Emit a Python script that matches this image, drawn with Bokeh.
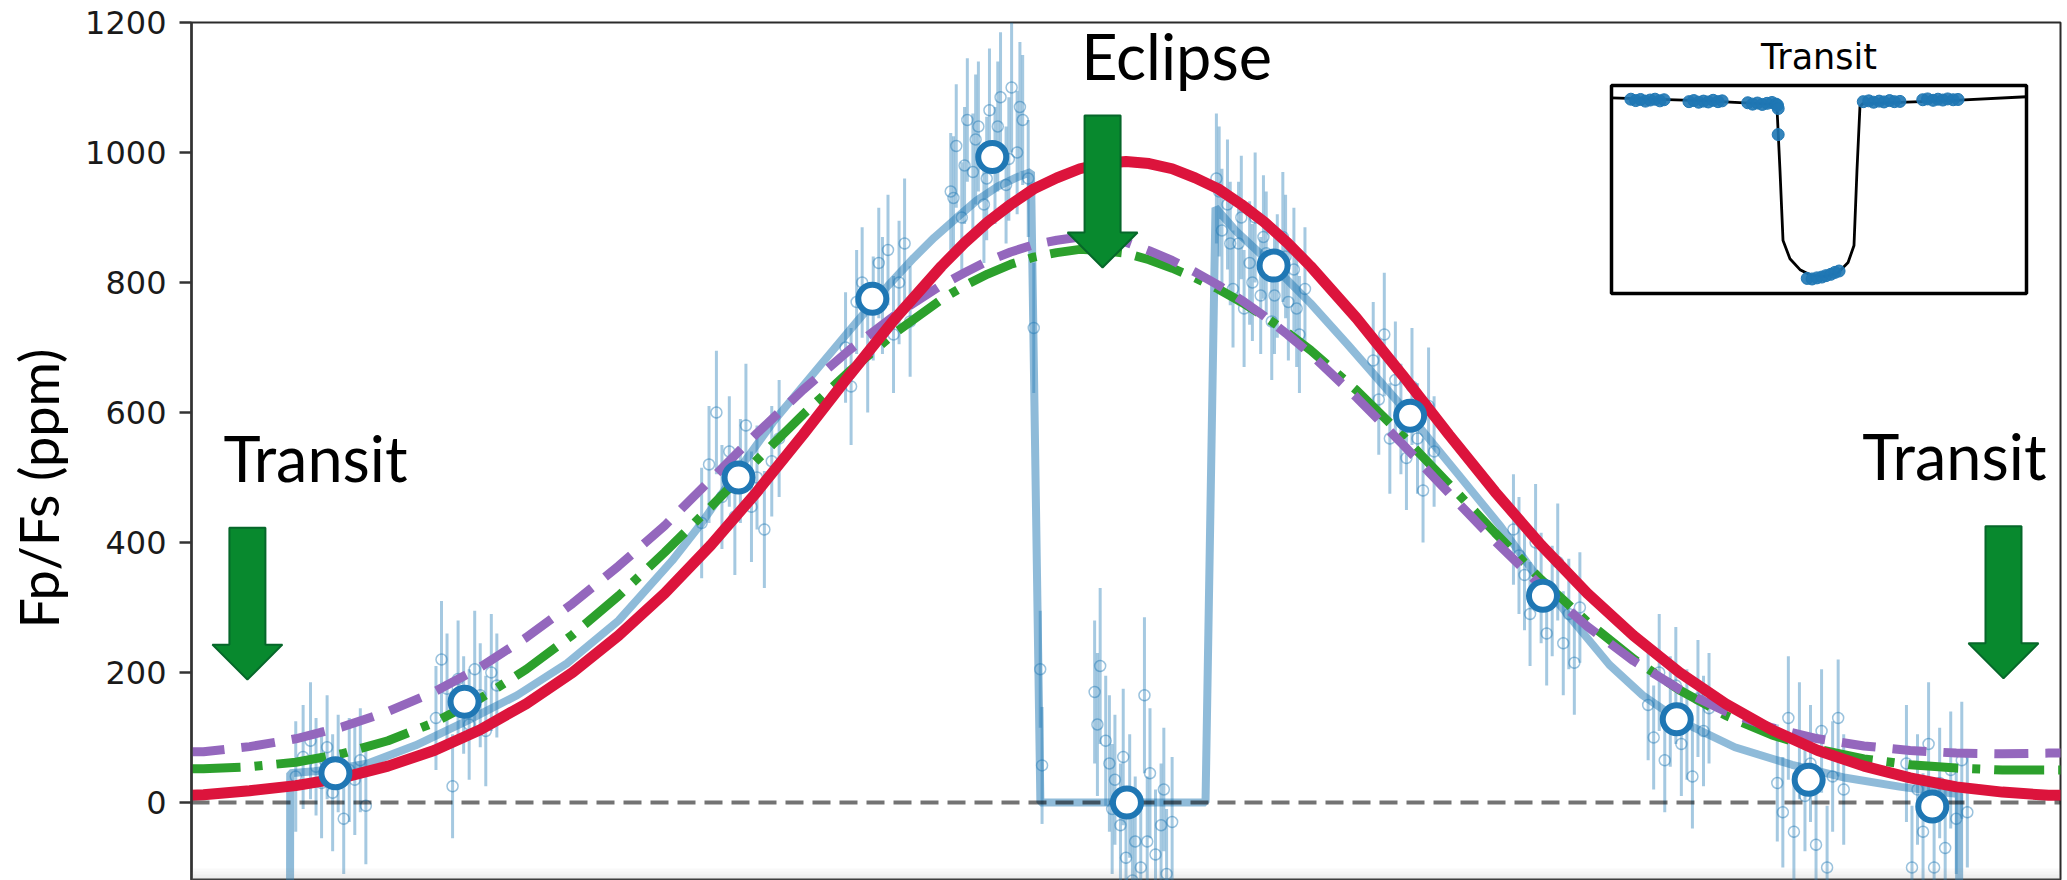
import numpy as np
from bokeh.plotting import figure
from bokeh.layouts import row
from bokeh.models import Range1d, Label, FixedTicker, BoxAnnotation
from bokeh.core.properties import value
from bokeh.embed import file_html
from bokeh.resources import INLINE

# ------------------------------------------------------------------
# Phase-curve models, sampled in orbital phase (transit = 0, eclipse = 0.5)
# ------------------------------------------------------------------
model_phase = [-0.007, 0.000, 0.025, 0.050, 0.075, 0.100, 0.125, 0.150, 0.175,
               0.200, 0.225, 0.250, 0.275, 0.300, 0.325, 0.350, 0.375,
               0.4000, 0.4125, 0.4250, 0.4375, 0.4500, 0.4625, 0.4750, 0.4875,
               0.5000, 0.5125, 0.5250, 0.5375, 0.5500, 0.5625, 0.5750, 0.5875,
               0.6000,
               0.625, 0.650, 0.675, 0.700, 0.725, 0.750, 0.775, 0.800, 0.825,
               0.850, 0.875, 0.900, 0.925, 0.950, 0.975, 1.000, 1.007]
red_ppm = [11, 12, 18, 26, 38, 56, 80, 112, 152, 200, 257, 322, 396, 478, 566,
           657, 745,
           825, 861, 893, 920, 944, 961, 975, 983, 986, 983, 975, 961, 944, 920,
           893, 861, 825,
           745, 657, 566, 478, 396, 322, 257, 200, 152, 112, 80, 56, 38, 24, 16,
           11, 11]
purple_ppm = [78, 78, 86, 98, 116, 140, 170, 208, 254, 306, 364, 426, 497, 568,
              635, 696, 750,
              796, 815, 833, 847, 858, 865, 870, 867, 862, 849, 834, 816, 796,
              773, 748, 720, 690,
              623, 551, 476, 402, 333, 271, 218, 174, 140, 115, 98, 87, 80, 76,
              75, 76, 76]
green_ppm = [52, 52, 55, 62, 75, 95, 123, 160, 205, 258, 318, 385, 455, 527,
             597, 663, 723,
             774, 795, 813, 828, 839, 846, 851, 849, 845, 835, 822, 807, 790,
             770, 748, 723, 696,
             634, 564, 490, 415, 343, 278, 221, 173, 134, 104, 82, 67, 58, 53,
             50, 50, 50]

# Fitted light-curve model with the transit and the secondary eclipse
fit_phase = [-0.007, 0.044, 0.047, 0.060, 0.075, 0.089, 0.115, 0.143, 0.170,
             0.197, 0.225, 0.254, 0.270, 0.289, 0.310, 0.335, 0.356, 0.371,
             0.385, 0.396, 0.408, 0.419, 0.430, 0.441, 0.4485, 0.4536, 0.5431,
             0.5485, 0.560, 0.579, 0.600, 0.620, 0.654, 0.680, 0.703, 0.726,
             0.745, 0.762, 0.780, 0.800, 0.830, 0.861, 0.890, 0.920, 0.945,
             0.9515, 0.9555, 1.007]
fit_ppm = [-6500, -6500, 45, 48, 53, 60, 88, 126, 165, 214, 280, 372, 430, 508,
           590, 675, 746, 795, 838, 869, 899, 926, 947, 962, 970, 0, 0, 915,
           878, 828, 768, 705, 595, 505, 425, 335, 270, 212, 165, 126, 85, 58,
           38, 24, 15, 13, -6500, -6500]

# ------------------------------------------------------------------
# Unbinned measurements (phase, Fp/Fs, 1-sigma error)
# ------------------------------------------------------------------
obs_phase = [
    0.050, 0.054, 0.058, 0.061, 0.064, 0.067, 0.070, 0.073, 0.076, 0.079, 0.082, 0.085, 0.088,
    0.126, 0.129, 0.132, 0.135, 0.138, 0.141, 0.144, 0.147, 0.150, 0.153, 0.156, 0.159,
    0.270, 0.274, 0.278, 0.281, 0.285, 0.288, 0.291, 0.294, 0.297, 0.300, 0.304, 0.308, 0.312,
    0.348, 0.351, 0.354, 0.357, 0.360, 0.363, 0.366, 0.368, 0.371, 0.374, 0.377, 0.380, 0.383,
    0.405, 0.408, 0.411, 0.414, 0.417, 0.420, 0.423, 0.426, 0.429, 0.432, 0.435, 0.438, 0.441, 0.444, 0.447,
    0.4065, 0.4125, 0.4185, 0.4245, 0.4305, 0.4365, 0.4425,
    0.4500, 0.4535, 0.4545,
    0.483, 0.486, 0.489, 0.491, 0.494, 0.497, 0.500, 0.502, 0.505, 0.508, 0.510, 0.513, 0.516, 0.519, 0.522, 0.525,
    0.4845, 0.4925, 0.4985, 0.5035, 0.5115, 0.5205,
    0.549, 0.552, 0.555, 0.558, 0.561, 0.564, 0.567, 0.570, 0.573, 0.576, 0.579, 0.582, 0.585, 0.588, 0.591, 0.594, 0.597,
    0.5505, 0.5565, 0.5625, 0.5685, 0.5745, 0.5805, 0.5865, 0.5925,
    0.634, 0.637, 0.640, 0.643, 0.646, 0.649, 0.652, 0.655, 0.658, 0.661, 0.664, 0.667,
    0.710, 0.713, 0.716, 0.719, 0.722, 0.725, 0.728, 0.731, 0.734, 0.737, 0.740, 0.743, 0.746,
    0.783, 0.786, 0.789, 0.792, 0.795, 0.798, 0.801, 0.804, 0.807, 0.810, 0.813, 0.816,
    0.853, 0.856, 0.859, 0.862, 0.865, 0.868, 0.871, 0.874, 0.877, 0.880, 0.883, 0.886, 0.889,
    0.923, 0.926, 0.929, 0.932, 0.935, 0.938, 0.941, 0.944, 0.947, 0.950, 0.953, 0.956,
]
obs_ppm = [
    40, 70, 95, 55, 30, 85, 15, 60, -25, 50, 35, 65, -5,
    130, 220, 175, 25, 190, 150, 120, 205, 165, 110, 200, 180,
    430, 520, 600, 470, 540, 440, 510, 580, 455, 500, 420, 525, 560,
    700, 640, 770, 800, 690, 760, 830, 780, 850, 720, 800, 860, 740,
    940, 1010, 900, 1050, 970, 1040, 920, 1065, 980, 1085, 950, 1100, 1000, 1050, 960,
    930, 980, 1020, 960, 1040, 990, 1070,
    730, 205, 57,
    170, 210, 95, 60, 35, -35, -85, 10, -60, -100, 165, 45, -80, -35, -110, -30,
    120, -10, 70, -120, -60, 20,
    960, 880, 920, 790, 860, 760, 830, 900, 780, 845, 740, 810, 870, 770, 820, 720, 790,
    940, 860, 900, 800, 870, 780, 840, 760,
    680, 620, 720, 560, 650, 590, 530, 640, 560, 480, 610, 540,
    420, 380, 350, 290, 400, 330, 260, 310, 370, 245, 290, 215, 300,
    150, 100, 200, 65, 140, 180, 90, 120, 40, 160, 110, 145,
    30, -15, 130, -45, 95, 10, 60, -65, 110, -100, 40, 130, 20,
    60, -100, 20, -45, 90, -100, 30, -70, 50, -25, 65, -15,
]
obs_err = [
    85, 80, 90, 75, 85, 80, 90, 75, 85, 80, 85, 80, 90,
    80, 90, 85, 80, 90, 75, 85, 90, 80, 85, 90, 80,
    85, 90, 95, 80, 85, 90, 80, 95, 85, 80, 90, 85, 90,
    85, 90, 80, 85, 90, 80, 85, 90, 85, 90, 95, 100, 85,
    90, 95, 85, 95, 90, 100, 90, 95, 90, 100, 90, 100, 95, 100, 90,
    95, 90, 100, 95, 100, 95, 100,
    100, 90, 90,
    110, 120, 100, 105, 100, 95, 100, 95, 100, 105, 120, 100, 100, 95, 100, 100,
    110, 100, 105, 100, 100, 95,
    100, 95, 100, 90, 95, 90, 95, 100, 90, 95, 90, 95, 100, 90, 95, 90, 95,
    100, 95, 95, 90, 95, 90, 95, 90,
    90, 85, 95, 85, 90, 85, 80, 90, 85, 80, 90, 85,
    85, 90, 85, 80, 90, 85, 80, 85, 90, 80, 85, 80, 85,
    85, 80, 90, 80, 85, 90, 80, 85, 80, 90, 85, 85,
    90, 85, 95, 90, 90, 85, 90, 90, 95, 95, 85, 90, 85,
    90, 95, 85, 90, 95, 95, 85, 90, 90, 85, 90, 85,
]

# Binned measurements
bin_phase = [0.0715, 0.1415, 0.290, 0.3625, 0.4275, 0.5005, 0.580, 0.654,
             0.726, 0.7985, 0.870, 0.937]
bin_ppm = [45, 155, 500, 775, 993, 0, 826, 595, 318, 128, 35, -6]

y_ticks = [0, 200, 400, 600, 800, 1000, 1200]

# Inset: transit light curve (hours from mid-transit, flux change in ppm)
inset_model_t = [-3.0, -1.72, -0.64, -0.607, -0.564, -0.52, -0.42, -0.275,
                 -0.10, 0.09, 0.275, 0.42, 0.506, 0.549, 0.592, 0.636, 1.89, 3.0]
inset_model_ppm = [-10, -110, -250, -400, -2660, -5220, -5880, -6280, -6500,
                   -6530, -6390, -6020, -5400, -2660, -330, -220, -110, 30]
inset_obs_t = [
    -2.72, -2.65, -2.58, -2.51, -2.44, -2.37, -2.30, -2.24,
    -1.88, -1.81, -1.74, -1.67, -1.60, -1.53, -1.46, -1.40,
    -1.03, -0.96, -0.89, -0.82, -0.75, -0.68, -0.62, -0.60,
    -0.59, -0.59,
    -0.17, -0.10, -0.03, 0.04, 0.10, 0.17, 0.23, 0.29,
    0.64, 0.72, 0.79, 0.87, 0.94, 1.02, 1.09, 1.17,
    1.50, 1.57, 1.65, 1.72, 1.79, 1.86, 1.94, 2.01,
]
inset_obs_ppm = [
    -60, -110, -70, -130, -90, -60, -120, -80,
    -150, -110, -170, -130, -160, -100, -150, -120,
    -190, -240, -200, -250, -210, -180, -240, -280,
    -400, -1350,
    -6600, -6620, -6580, -6550, -6500, -6450, -6380, -6330,
    -150, -120, -170, -130, -160, -110, -150, -140,
    -80, -50, -100, -60, -90, -50, -80, -70,
]

# ------------------------------------------------------------------
# Page geometry
# ------------------------------------------------------------------
WIDTH, HEIGHT = 2067, 880
TITLE_W = 78                                   # strip holding the y title
FRAME_LEFT, FRAME_RIGHT, FRAME_TOP, FRAME_BOTTOM = 191, 2060, 22, 880
X_LO, X_HI = -0.0065, 1.0065
Y_LO, Y_HI = -120, 1200
X_PER_PX = (X_HI - X_LO) / (FRAME_RIGHT - FRAME_LEFT)
Y_PER_PX = (Y_HI - Y_LO) / (FRAME_BOTTOM - FRAME_TOP)

BLUE = "#1f77b4"
RED = "#dc143c"
PURPLE = "#9467bd"
GREEN = "#2ca02c"
ARROW_FILL = "#08892e"
ARROW_EDGE = "#06672a"

# ---- narrow strip with the rotated y-axis title ----
t = figure(width=TITLE_W, height=HEIGHT, x_range=Range1d(0, TITLE_W),
           y_range=Range1d(0, HEIGHT), output_backend="svg",
           toolbar_location=None, x_axis_location=None, y_axis_location=None,
           min_border=0)
t.outline_line_color = None
t.grid.visible = False
t.text(x=[38], y=[HEIGHT - 478], text=["Fp/Fs (ppm)"], angle=np.pi / 2,
       text_align="center", text_baseline="middle",
       text_font=value("Lato"), text_font_size=value("54px"),
       text_color="black")

# ---- main phase-curve panel ----
p = figure(width=WIDTH - TITLE_W, height=HEIGHT,
           x_range=Range1d(X_LO, X_HI), y_range=Range1d(Y_LO, Y_HI),
           output_backend="svg", toolbar_location=None,
           x_axis_location=None,
           min_border_left=FRAME_LEFT - TITLE_W,
           min_border_right=WIDTH - FRAME_RIGHT,
           min_border_top=FRAME_TOP, min_border_bottom=HEIGHT - FRAME_BOTTOM)
p.grid.visible = False
p.background_fill_color = "white"
p.border_fill_color = "white"
p.outline_line_color = "#2b2b2b"
p.outline_line_width = 2

ax = p.yaxis[0]
ax.ticker = FixedTicker(ticks=y_ticks)
ax.axis_line_color = "#333333"
ax.axis_line_width = 2.5
ax.major_tick_line_color = "#333333"
ax.major_tick_line_width = 2.5
ax.major_tick_out = 12
ax.major_tick_in = 0
ax.minor_tick_line_color = None
ax.major_label_text_font = "DejaVu Sans"
ax.major_label_text_font_size = "32px"
ax.major_label_text_color = "#1a1a1a"
ax.major_label_standoff = 13

# ------------------------------------------------------------------
# Measurements
# ------------------------------------------------------------------
ph = np.array(obs_phase)
val = np.array(obs_ppm)
err = np.array(obs_err)
p.segment(x0=ph, y0=val - err, x1=ph, y1=val + err,
          line_color=BLUE, line_alpha=0.4, line_width=3)
p.scatter(ph, val, marker="circle", size=11, fill_color=None,
          line_color=BLUE, line_alpha=0.45, line_width=1.5)

# Models
p.line(fit_phase, fit_ppm, line_color=BLUE, line_alpha=0.5, line_width=8)
p.line(model_phase, green_ppm, line_color=GREEN, line_width=9,
       line_dash="50 14 8 14")
p.line(model_phase, purple_ppm, line_color=PURPLE, line_width=9,
       line_dash="34 17")
p.line(model_phase, red_ppm, line_color=RED, line_width=11)

# Zero level
p.hspan(y=[0], line_color="black", line_alpha=0.55, line_width=4,
        line_dash="18 9")

# Binned points
p.scatter(bin_phase, bin_ppm, marker="circle", size=28, fill_color="white",
          line_color=BLUE, line_width=6)

# ------------------------------------------------------------------
# Annotation arrows (shape given in screen pixels relative to the tip)
# ------------------------------------------------------------------
SHAFT_HALF, HEAD_HALF, HEAD_LEN, ARROW_LEN = 18, 35, 35, 152
arrow_shape = [(0, 0), (HEAD_HALF, HEAD_LEN), (SHAFT_HALF, HEAD_LEN),
               (SHAFT_HALF, ARROW_LEN), (-SHAFT_HALF, ARROW_LEN),
               (-SHAFT_HALF, HEAD_LEN), (-HEAD_HALF, HEAD_LEN)]
arrow_tips = [(0.0238, 189), (0.4873, 823), (0.9756, 191)]
axs, ays = [], []
for tx, ty in arrow_tips:
    axs.append([tx + dx * X_PER_PX for dx, dy in arrow_shape])
    ays.append([ty + dy * Y_PER_PX for dx, dy in arrow_shape])
p.patches(axs, ays, fill_color=ARROW_FILL, line_color=ARROW_EDGE,
          line_width=2)

# Event labels; baseline positions raised to compensate the SVG text offset
LBL_SIZE = 63
lift = 25 * Y_PER_PX
label_style = dict(text_font="Lato", text_font_size=f"{LBL_SIZE}px",
                   text_color="black", text_baseline="alphabetic")
p.add_layout(Label(x=0.0108, y=492 + lift, text="Transit", text_align="left",
                   **label_style))
p.add_layout(Label(x=0.5274, y=1111 + lift, text="Eclipse",
                   text_align="center", **label_style))
p.add_layout(Label(x=0.9989, y=495 + lift, text="Transit", text_align="right",
                   **label_style))

# Soft shading along the lower edge
for i, a in enumerate([0.05, 0.09, 0.14, 0.2]):
    p.add_layout(BoxAnnotation(bottom=Y_LO + (3 - i) * 3 * Y_PER_PX,
                               top=Y_LO + (4 - i) * 3 * Y_PER_PX,
                               fill_color="#8c8c8c", fill_alpha=a,
                               line_color=None))

# ------------------------------------------------------------------
# Inset: transit light curve in its own coordinate system
# ------------------------------------------------------------------
BOX_L, BOX_R, BOX_T, BOX_B = 1611, 2026, 85, 293
T_LO, T_HI = -3.0, 3.0
F_LO, F_HI = -7150, 440
t_per_px = (T_HI - T_LO) / (BOX_R - BOX_L)
f_per_px = (F_HI - F_LO) / (BOX_B - BOX_T)
p.extra_x_ranges = {"inset_x": Range1d(T_LO - (BOX_L - FRAME_LEFT) * t_per_px,
                                       T_HI + (FRAME_RIGHT - BOX_R) * t_per_px)}
p.extra_y_ranges = {"inset_y": Range1d(F_LO - (FRAME_BOTTOM - BOX_B) * f_per_px,
                                       F_HI + (BOX_T - FRAME_TOP) * f_per_px)}
ins = dict(x_range_name="inset_x", y_range_name="inset_y")
p.quad(left=[T_LO], right=[T_HI], top=[F_HI], bottom=[F_LO],
       fill_color="white", line_color="black", line_width=3.5, **ins)
p.line(inset_model_t, inset_model_ppm, line_color="black", line_width=2.8, **ins)
p.scatter(inset_obs_t, inset_obs_ppm, marker="circle", size=12,
          fill_color=BLUE, line_color=BLUE, fill_alpha=0.9, **ins)
p.add_layout(Label(x=0.0, y=F_HI + (17 + 12) * f_per_px, text="Transit",
                   text_align="center", text_baseline="alphabetic",
                   text_font="DejaVu Sans", text_font_size="35px",
                   text_color="black", **ins))

layout = row(t, p, spacing=0)
open("out.html", "w").write(file_html(layout, INLINE))
